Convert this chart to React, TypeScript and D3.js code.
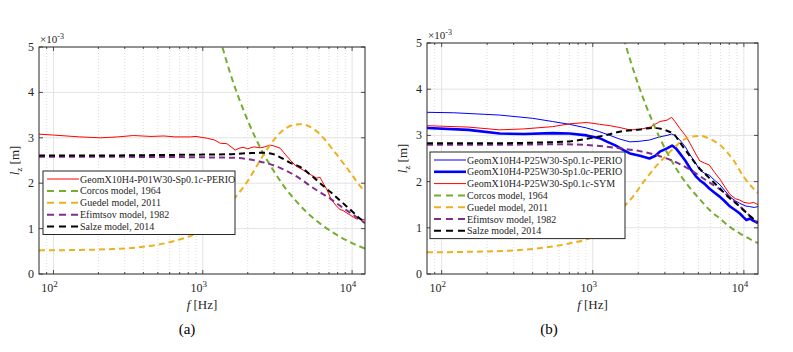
import * as d3 from 'd3';
import { useEffect, useRef } from 'react';

const W = 793;
const H = 352;
const FONT = "'Liberation Serif', 'Times New Roman', serif";

// ---- panel (a): frequency [Hz], lz [x1e-3 m]
const aPerio: [number, number][] = [
  [80, 3.08], [100, 3.06], [150, 3.02], [206, 3.0], [270, 3.02], [343, 3.05], [450, 3.03],
  [550, 3.04], [650, 3.02], [825, 3.02], [900, 3.03], [1070, 2.99], [1200, 2.95], [1310, 2.88],
  [1450, 2.87], [1650, 2.73], [1750, 2.77], [1860, 2.79], [2000, 2.76], [2200, 2.8], [2430, 2.78],
  [2600, 2.8], [2820, 2.84], [3000, 2.82], [3300, 2.77], [3600, 2.62], [3850, 2.51], [4200, 2.38],
  [4700, 2.29], [5200, 2.2], [5800, 2.11], [6100, 2.13], [6450, 1.98], [6800, 1.85], [7160, 1.68],
  [7500, 1.58], [7940, 1.48], [8300, 1.42], [8700, 1.4], [9250, 1.34], [9700, 1.3], [10200, 1.25],
  [10800, 1.21], [11200, 1.23], [11700, 1.2], [12200, 1.19],
];
const aCorcos: [number, number][] = [
  [1300, 5.2], [1500, 4.5], [2000, 3.38], [2500, 2.7], [2960, 2.29], [3500, 1.93], [4030, 1.68],
  [5000, 1.35], [6400, 1.06], [8000, 0.85], [10000, 0.68], [12200, 0.56],
];
const aGuedel: [number, number][] = [
  [80, 0.52], [150, 0.53], [250, 0.55], [400, 0.6], [600, 0.7], [800, 0.82], [1000, 0.96],
  [1200, 1.15], [1400, 1.38], [1600, 1.63], [2000, 2.05], [2300, 2.38], [2700, 2.75], [3400, 3.15],
  [4000, 3.28], [4500, 3.3], [5500, 3.2], [6500, 2.98], [7500, 2.72], [8700, 2.45], [10000, 2.18],
  [11700, 1.88], [12200, 1.82],
];
const aEfimtsov: [number, number][] = [
  [80, 2.58], [300, 2.58], [1000, 2.57], [1600, 2.56], [2000, 2.53], [2400, 2.48], [2820, 2.42],
  [3500, 2.3], [4480, 2.1], [5300, 1.93], [6100, 1.8], [7200, 1.65], [8500, 1.48], [10000, 1.32],
  [12200, 1.12],
];
const aSalze: [number, number][] = [
  [80, 2.61], [200, 2.61], [500, 2.62], [1000, 2.63], [1500, 2.64], [2000, 2.66], [2500, 2.67],
  [2900, 2.65], [3300, 2.57], [3800, 2.46], [4480, 2.36], [5200, 2.2], [6100, 2.0], [7200, 1.8],
  [8500, 1.59], [10000, 1.38], [11200, 1.23], [12200, 1.14],
];

// ---- panel (b)
const bPerio01: [number, number][] = [
  [80, 3.5], [120, 3.49], [242, 3.44], [400, 3.37], [543, 3.3], [700, 3.24], [912, 3.16],
  [1110, 3.08], [1300, 3.0], [1510, 2.92], [1760, 2.86], [2000, 2.87], [2370, 2.9], [2780, 2.97],
  [3100, 3.0], [3330, 3.03], [3500, 3.0], [3770, 2.9], [4100, 2.75], [4400, 2.58], [4800, 2.4],
  [5100, 2.25], [5500, 2.18], [5900, 2.14], [6400, 2.03], [6950, 1.93], [7500, 1.8], [8100, 1.67],
  [8800, 1.58], [9400, 1.53], [10300, 1.47], [10900, 1.46], [11700, 1.44], [12400, 1.46],
];
const bPerio10: [number, number][] = [
  [80, 3.16], [150, 3.12], [242, 3.04], [350, 3.03], [543, 3.05], [700, 3.04], [912, 3.0],
  [1110, 2.94], [1250, 2.86], [1400, 2.79], [1600, 2.68], [1760, 2.61], [2050, 2.56], [2370, 2.5],
  [2600, 2.56], [2780, 2.65], [3100, 2.72], [3350, 2.78], [3550, 2.72], [3770, 2.61], [4100, 2.45],
  [4400, 2.29], [4800, 2.12], [5100, 2.03], [5500, 1.95], [5900, 1.85], [6400, 1.76], [6950, 1.67],
  [7500, 1.57], [8100, 1.46], [8800, 1.38], [9400, 1.31], [10000, 1.22], [10400, 1.17],
  [11000, 1.2], [11600, 1.15], [12400, 1.1],
];
const bSym: [number, number][] = [
  [80, 3.21], [150, 3.18], [242, 3.12], [350, 3.14], [543, 3.19], [700, 3.25], [912, 3.28],
  [1110, 3.24], [1300, 3.21], [1510, 3.17], [1760, 3.12], [2050, 3.13], [2400, 3.18], [2780, 3.3],
  [3100, 3.33], [3330, 3.39], [3500, 3.3], [3770, 3.15], [4100, 3.0], [4400, 2.83], [4800, 2.6],
  [5100, 2.45], [5500, 2.4], [5900, 2.36], [6400, 2.2], [6950, 2.05], [7500, 1.88], [8100, 1.72],
  [8800, 1.63], [9400, 1.6], [10000, 1.55], [10900, 1.53], [11600, 1.55], [12400, 1.5],
];
const bCorcos: [number, number][] = [
  [1600, 5.1], [2000, 4.1], [2500, 3.28], [3000, 2.72], [3600, 2.26], [4300, 1.9], [5100, 1.62],
  [6000, 1.37], [6950, 1.2], [8000, 1.03], [9500, 0.87], [11200, 0.74], [12400, 0.67],
];
const bGuedel: [number, number][] = [
  [80, 0.47], [150, 0.48], [300, 0.51], [500, 0.58], [700, 0.66], [1000, 0.81], [1300, 1.1],
  [1600, 1.45], [1840, 1.67], [2200, 2.02], [2650, 2.35], [3100, 2.58], [3500, 2.75], [3970, 2.9],
  [4500, 2.97], [5100, 2.99], [6000, 2.92], [6950, 2.79], [8500, 2.47], [10000, 2.1], [11200, 1.9],
  [12400, 1.75],
];
const bEfimtsov: [number, number][] = [
  [80, 2.8], [300, 2.8], [600, 2.81], [1110, 2.77], [1500, 2.72], [2050, 2.66], [2780, 2.55],
  [3770, 2.38], [4600, 2.22], [5500, 2.05], [6950, 1.83], [8500, 1.6], [10000, 1.38], [12400, 1.1],
];
const bSalze: [number, number][] = [
  [80, 2.83], [200, 2.83], [500, 2.85], [700, 2.87], [955, 2.94], [1200, 3.0], [1510, 3.08],
  [2050, 3.13], [2500, 3.16], [3100, 3.1], [3500, 3.0], [3770, 2.85], [4400, 2.55], [5100, 2.28],
  [5900, 2.08], [6950, 1.85], [8000, 1.65], [9400, 1.46], [11000, 1.25], [12400, 1.12],
];

const yTicks = [0, 1, 2, 3, 4, 5];
const xDecades = [100, 1000, 10000];

type Series = {
  label: string;
  data: [number, number][];
  color: string;
  width: number;
  dash?: string;
  smooth?: boolean;
};

const RED = '#ff0000';
const BLUE = '#0000ff';
const GREEN = '#77ac30';
const ORANGE = '#edb120';
const PURPLE = '#7e2f8e';
const BLACK = '#000000';
const DASH = '6,4';

const models = (c: [number, number][], g: [number, number][], e: [number, number][], s: [number, number][]): Series[] => [
  { label: 'Corcos model, 1964', data: c, color: GREEN, width: 2, dash: DASH, smooth: true },
  { label: 'Guedel model, 2011', data: g, color: ORANGE, width: 2, dash: DASH, smooth: true },
  { label: 'Efimtsov model, 1982', data: e, color: PURPLE, width: 2, dash: DASH, smooth: true },
  { label: 'Salze model, 2014', data: s, color: BLACK, width: 2, dash: DASH, smooth: true },
];

const seriesA: Series[] = [
  { label: 'GeomX10H4-P01W30-Sp0.1c-PERIO', data: aPerio, color: RED, width: 1 },
  ...models(aCorcos, aGuedel, aEfimtsov, aSalze),
];
const seriesB: Series[] = [
  { label: 'GeomX10H4-P25W30-Sp0.1c-PERIO', data: bPerio01, color: BLUE, width: 1 },
  { label: 'GeomX10H4-P25W30-Sp1.0c-PERIO', data: bPerio10, color: BLUE, width: 2.6 },
  { label: 'GeomX10H4-P25W30-Sp0.1c-SYM', data: bSym, color: RED, width: 1 },
  ...models(bCorcos, bGuedel, bEfimtsov, bSalze),
];

type Layout = {
  id: string;
  x0: number; x1: number; y0: number; y1: number;
  fMax: number;
  legend: { x: number; y: number; w: number; row: number };
  caption: string; capX: number;
};

function drawPanel(root: d3.Selection<SVGGElement, unknown, null, undefined>, L: Layout, series: Series[]) {
  const x = d3.scaleLog().domain([80, L.fMax]).range([L.x0, L.x1]);
  const y = d3.scaleLinear().domain([0, 5]).range([L.y1, L.y0]);
  const g = root.append('g');

  g.append('clipPath').attr('id', `clip-${L.id}`)
    .append('rect').attr('x', L.x0).attr('y', L.y0).attr('width', L.x1 - L.x0).attr('height', L.y1 - L.y0);

  // minor grid (dotted)
  const minors: number[] = [];
  for (const dec of [10, 100, 1000, 10000]) {
    for (let k = 2; k <= 9; k++) {
      const f = k * dec;
      if (f > 80 && f < L.fMax) minors.push(f);
    }
  }
  g.selectAll('.minor').data(minors).join('line')
    .attr('x1', (d) => x(d)).attr('x2', (d) => x(d)).attr('y1', L.y0).attr('y2', L.y1)
    .attr('stroke', '#cfcfcf').attr('stroke-width', 0.7).attr('stroke-dasharray', '1,2');
  // major grid
  g.selectAll('.majx').data(xDecades).join('line')
    .attr('x1', (d) => x(d)).attr('x2', (d) => x(d)).attr('y1', L.y0).attr('y2', L.y1)
    .attr('stroke', '#e3e3e3').attr('stroke-width', 1);
  g.selectAll('.majy').data(yTicks.slice(1, -1)).join('line')
    .attr('x1', L.x0).attr('x2', L.x1).attr('y1', (d) => y(d)).attr('y2', (d) => y(d))
    .attr('stroke', '#e3e3e3').attr('stroke-width', 1);

  // curves
  const curves = g.append('g').attr('clip-path', `url(#clip-${L.id})`);
  for (const s of series) {
    const line = d3.line<[number, number]>()
      .x((d) => x(d[0])).y((d) => y(d[1]))
      .curve(s.smooth ? d3.curveMonotoneX : d3.curveLinear);
    curves.append('path').attr('d', line(s.data))
      .attr('fill', 'none').attr('stroke', s.color).attr('stroke-width', s.width)
      .attr('stroke-dasharray', s.dash ?? null).attr('stroke-linejoin', 'round');
  }

  // frame + ticks
  g.append('rect').attr('x', L.x0).attr('y', L.y0).attr('width', L.x1 - L.x0).attr('height', L.y1 - L.y0)
    .attr('fill', 'none').attr('stroke', '#262626').attr('stroke-width', 1);
  const tk = g.append('g').attr('stroke', '#262626').attr('stroke-width', 0.8);
  for (const v of yTicks) {
    tk.append('line').attr('x1', L.x0).attr('x2', L.x0 + 4).attr('y1', y(v)).attr('y2', y(v));
    tk.append('line').attr('x1', L.x1).attr('x2', L.x1 - 4).attr('y1', y(v)).attr('y2', y(v));
  }
  for (const f of xDecades) {
    tk.append('line').attr('x1', x(f)).attr('x2', x(f)).attr('y1', L.y1).attr('y2', L.y1 - 4);
    tk.append('line').attr('x1', x(f)).attr('x2', x(f)).attr('y1', L.y0).attr('y2', L.y0 + 4);
  }
  for (const f of minors) {
    tk.append('line').attr('x1', x(f)).attr('x2', x(f)).attr('y1', L.y1).attr('y2', L.y1 - 2);
    tk.append('line').attr('x1', x(f)).attr('x2', x(f)).attr('y1', L.y0).attr('y2', L.y0 + 2);
  }

  // tick labels
  const txt = g.append('g').attr('font-family', FONT).attr('fill', '#262626');
  txt.selectAll('.yl').data(yTicks).join('text')
    .attr('x', L.x0 - 5).attr('y', (d) => y(d) + 4).attr('text-anchor', 'end').attr('font-size', 12)
    .text((d) => String(d));
  for (const f of xDecades) {
    const t = txt.append('text').attr('x', x(f) - 4).attr('y', L.y1 + 18).attr('text-anchor', 'middle').attr('font-size', 12);
    t.append('tspan').text('10');
    t.append('tspan').attr('dy', -5).attr('font-size', 9).text(String(Math.log10(f)));
  }
  const mult = txt.append('text').attr('x', L.x0 + 1).attr('y', L.y0 - 4).attr('font-size', 11);
  mult.append('tspan').text('\u00d710');
  mult.append('tspan').attr('dy', -4).attr('font-size', 8).text('-3');

  // axis labels
  const xl = txt.append('text').attr('x', (L.x0 + L.x1) / 2).attr('y', L.y1 + 35)
    .attr('text-anchor', 'middle').attr('font-size', 13);
  xl.append('tspan').attr('font-style', 'italic').text('f');
  xl.append('tspan').text(' [Hz]');
  const yl = txt.append('text')
    .attr('transform', `translate(${L.x0 - 20},${(L.y0 + L.y1) / 2}) rotate(-90)`)
    .attr('text-anchor', 'middle').attr('font-size', 13);
  yl.append('tspan').attr('font-style', 'italic').text('l');
  yl.append('tspan').attr('dy', 3).attr('font-size', 9).text('z');
  yl.append('tspan').attr('dy', -3).text(' [m]');

  txt.append('text').attr('x', L.capX).attr('y', 334).attr('text-anchor', 'middle')
    .attr('font-size', 15).attr('fill', '#000').text(L.caption);

  // legend
  const lg = L.legend;
  const lh = series.length * lg.row + 4;
  const leg = g.append('g');
  leg.append('rect').attr('x', lg.x).attr('y', lg.y).attr('width', lg.w).attr('height', lh)
    .attr('fill', '#fff').attr('stroke', '#262626').attr('stroke-width', 1);
  series.forEach((s, i) => {
    const cy = lg.y + 8 + i * lg.row;
    leg.append('line').attr('x1', lg.x + 4).attr('x2', lg.x + 36).attr('y1', cy).attr('y2', cy)
      .attr('stroke', s.color).attr('stroke-width', s.width)
      .attr('stroke-dasharray', s.dash ? '7,5' : null);
    const t = leg.append('text').attr('x', lg.x + 37).attr('y', cy + 3.5).attr('font-family', FONT)
      .attr('font-size', 10).attr('fill', '#262626');
    // the "c" after the spacing value is set in italics
    const m = s.label.match(/^(.*Sp\d\.\d)c(-.*)$/);
    if (m) {
      t.append('tspan').text(m[1]);
      t.append('tspan').attr('font-style', 'italic').text('c');
      t.append('tspan').text(m[2]);
    } else {
      t.text(s.label);
    }
  });
}

const layoutA: Layout = {
  id: 'a', x0: 39, x1: 365, y0: 47, y1: 274, fMax: 12200,
  legend: { x: 43, y: 171, w: 192, row: 11.9 }, caption: '(a)', capX: 187,
};
const layoutB: Layout = {
  id: 'b', x0: 427, x1: 758, y0: 43, y1: 274, fMax: 12400,
  legend: { x: 430, y: 152, w: 195, row: 11.8 }, caption: '(b)', capX: 549,
};

export default function App() {
  const ref = useRef<SVGGElement>(null);
  useEffect(() => {
    if (ref.current == null) return;
    const root = d3.select(ref.current);
    root.selectAll('*').remove();
    drawPanel(root, layoutA, seriesA);
    drawPanel(root, layoutB, seriesB);
  }, []);
  return (
    <svg width={W} height={H} style={{ position: 'absolute', left: 0, top: 0, background: '#fff' }}>
      <g ref={ref}></g>
    </svg>
  );
}
